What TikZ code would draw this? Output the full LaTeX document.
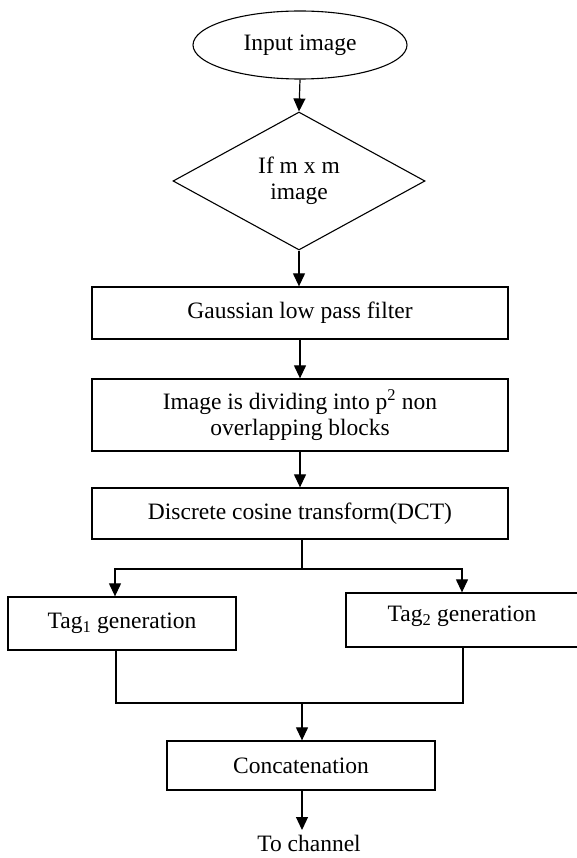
\documentclass[tikz,border=0pt]{standalone}
\usepackage{fontspec}
\setmainfont{Liberation Serif}
\usetikzlibrary{shapes.geometric,arrows.meta}
\begin{document}
\begin{tikzpicture}[x=1pt,y=-1pt,
  every node/.style={font=\fontsize{23.5}{26}\selectfont, inner sep=0pt},
  proc/.style={draw, line width=1.3pt, rectangle, align=center},
  conn/.style={line width=1.2pt},
  arr/.style={conn, -{Triangle[width=12pt,length=13pt]}}]
\useasboundingbox (0,0) rectangle (576,858);
\node[draw, line width=1.1pt, ellipse, minimum width=214, minimum height=68] (input) at (300,45) {Input image};
\node[draw, line width=1.1pt, diamond, minimum width=252, minimum height=138, align=center] (dec) at (299,181) {If m x m\\image};
\node[proc, minimum width=416, minimum height=52] (gauss) at (300,313) {Gaussian low pass filter};
\node[proc, minimum width=416, minimum height=72] (divide) at (300,415) {Image is dividing into p\textsuperscript{2} non\\overlapping blocks};
\node[proc, minimum width=416, minimum height=51] (dct) at (300,513.5) {Discrete cosine transform(DCT)};
\node[proc, minimum width=228, minimum height=53] (tag1) at (122,623.5) {Tag\textsubscript{1} generation};
\node[proc, minimum width=232, minimum height=54, text depth=12pt] (tag2) at (462,620) {Tag\textsubscript{2} generation};
\node[proc, minimum width=268, minimum height=49] (concat) at (301,765.5) {Concatenation};
\node[anchor=base] (out) at (309,851) {To channel};
\coordinate (split) at (302,569);
\coordinate (merge) at (302,703);
\coordinate (chanend) at (302,830);
\draw[arr] (input.south) -- (dec.north);
\draw[arr] (dec.south) -- (gauss.north -| dec.south);
\draw[arr] (gauss.south) -- (divide.north);
\draw[arr] (divide.south) -- (dct.north);
\draw[conn] (dct.south -| split) -- (split);
\draw[arr] (split) -| (tag1.north -| 115,0);
\draw[arr] (split) -| (tag2.north);
\draw[conn] (tag1.south -| 116,0) |- (merge);
\draw[conn] (tag2.south -| 463,0) |- (merge);
\draw[arr] (merge) -- (concat.north -| merge);
\draw[arr] (concat.south -| merge) -- (chanend);
\end{tikzpicture}
\end{document}
